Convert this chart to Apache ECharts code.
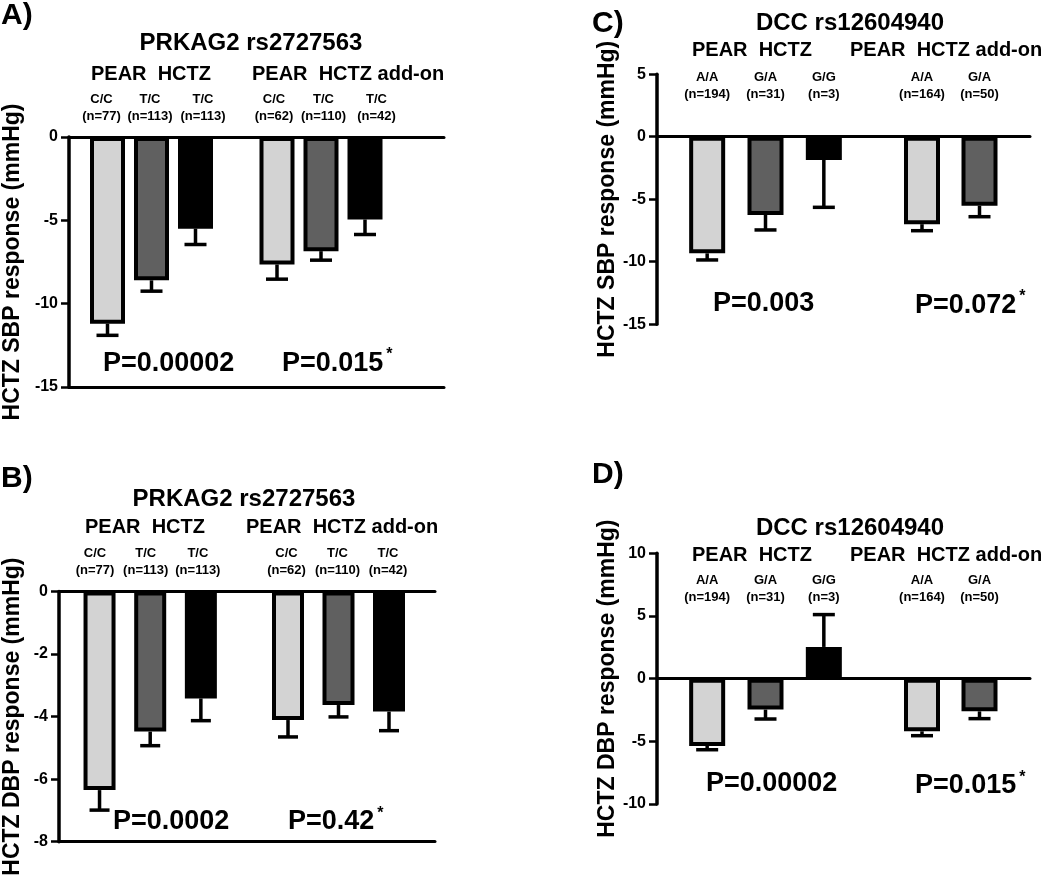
<!DOCTYPE html>
<html><head><meta charset="utf-8">
<script src="https://cdn.jsdelivr.net/npm/echarts@6/dist/echarts.min.js"></script>
<style>html,body{margin:0;padding:0;background:#fff}#c{width:1050px;height:882px}</style>
</head><body><div id="c"></div>
<script>
// ================= DATA =================
const groupNames = ['PEAR  HCTZ', 'PEAR  HCTZ add-on'];

// Panel A – PRKAG2 rs2727563, SBP
const A_letter = 'A)';
const A_title = 'PRKAG2 rs2727563';
const A_yName = 'HCTZ SBP response (mmHg)';
const A_yTicks = [0, -5, -10, -15];
const A_hctzCats = ['C/C\n(n=77)', 'T/C\n(n=113)', 'T/C\n(n=113)'];
const A_hctzMean = [-11.2, -8.6, -5.5];
const A_hctzSem = [0.7, 0.65, 0.95];
const A_addonCats = ['C/C\n(n=62)', 'T/C\n(n=110)', 'T/C\n(n=42)'];
const A_addonMean = [-7.65, -6.85, -4.95];
const A_addonSem = [0.88, 0.54, 0.9];
const A_pValues = ['P=0.00002', 'P=0.015'];

// Panel B – PRKAG2 rs2727563, DBP
const B_letter = 'B)';
const B_title = 'PRKAG2 rs2727563';
const B_yName = 'HCTZ DBP response (mmHg)';
const B_yTicks = [0, -2, -4, -6, -8];
const B_hctzCats = ['C/C\n(n=77)', 'T/C\n(n=113)', 'T/C\n(n=113)'];
const B_hctzMean = [-6.35, -4.48, -3.42];
const B_hctzSem = [0.64, 0.45, 0.71];
const B_addonCats = ['C/C\n(n=62)', 'T/C\n(n=110)', 'T/C\n(n=42)'];
const B_addonMean = [-4.11, -3.63, -3.84];
const B_addonSem = [0.54, 0.38, 0.61];
const B_pValues = ['P=0.0002', 'P=0.42'];

// Panel C – DCC rs12604940, SBP
const C_letter = 'C)';
const C_title = 'DCC rs12604940';
const C_yName = 'HCTZ SBP response (mmHg)';
const C_yTicks = [5, 0, -5, -10, -15];
const C_hctzCats = ['A/A\n(n=194)', 'G/A\n(n=31)', 'G/G\n(n=3)'];
const C_hctzMean = [-9.33, -6.26, -1.86];
const C_hctzSem = [0.53, 1.2, 3.79];
const C_addonCats = ['A/A\n(n=164)', 'G/A\n(n=50)'];
const C_addonMean = [-7.0, -5.52];
const C_addonSem = [0.52, 0.88];
const C_pValues = ['P=0.003', 'P=0.072'];

// Panel D – DCC rs12604940, DBP
const D_letter = 'D)';
const D_title = 'DCC rs12604940';
const D_yName = 'HCTZ DBP response (mmHg)';
const D_yTicks = [10, 5, 0, -5, -10];
const D_hctzCats = ['A/A\n(n=194)', 'G/A\n(n=31)', 'G/G\n(n=3)'];
const D_hctzMean = [-5.37, -2.47, 2.53];
const D_hctzSem = [0.3, 0.75, 2.58];
const D_addonCats = ['A/A\n(n=164)', 'G/A\n(n=50)'];
const D_addonMean = [-4.2, -2.61];
const D_addonSem = [0.35, 0.58];
const D_pValues = ['P=0.00002', 'P=0.015'];

const pStar = [false, true];

// ================= STYLE / LAYOUT =================
const FONT = '"Liberation Sans", Arial, Helvetica, sans-serif';
const fills = ['#d3d3d3', '#606060', '#000000'];

const panels = [
  {letter: A_letter, title: A_title, yName: A_yName, ticks: A_yTicks, pv: A_pValues,
   groups: [{cats: A_hctzCats, mean: A_hctzMean, sem: A_hctzSem}, {cats: A_addonCats, mean: A_addonMean, sem: A_addonSem}],
   L: {axisX: 67, top: 137, bottom: 387, right: 444, gl: [[85.5, 132], [255, 132]], barW: 35, cap: 11,
       lblMargin: 12.5, lblShift: [[-6, -1.5, 7.5], [-3, 2.5, 11.5]], nameGap: 45, frameBottom: true,
       letterXY: [1, 16], titleXY: [251, 43], headXY: [[91, 74], [252, 74]],
       pXY: [[103, 363.5], [282, 363.5]], starY: 355}},
  {letter: B_letter, title: B_title, yName: B_yName, ticks: B_yTicks, pv: B_pValues,
   groups: [{cats: B_hctzCats, mean: B_hctzMean, sem: B_hctzSem}, {cats: B_addonCats, mean: B_addonMean, sem: B_addonSem}],
   L: {axisX: 57, top: 591.5, bottom: 841.7, right: 435, gl: [[74.2, 152], [262.75, 151.5]], barW: 32, cap: 10,
       lblMargin: 13, lblShift: [[-4.5, -4.5, -3], [-1.5, -1, -1]], nameGap: 35, frameBottom: true,
       letterXY: [1, 479], titleXY: [244, 499], headXY: [[85, 527.5], [246, 527.5]],
       pXY: [[113, 822], [288, 822]], starY: 813.5}},
  {letter: C_letter, title: C_title, yName: C_yName, ticks: C_yTicks, pv: C_pValues,
   groups: [{cats: C_hctzCats, mean: C_hctzMean, sem: C_hctzSem}, {cats: C_addonCats, mean: C_addonMean, sem: C_addonSem}],
   L: {axisX: 657, top: 74.2, bottom: 324.2, right: 1030, gl: [[678, 175], [893.25, 115]], barW: 36, cap: 11,
       lblMargin: -28.3, lblShift: [[0, 0, 0], [0, 0]], nameGap: 37, frameBottom: false,
       letterXY: [592, 24], titleXY: [850, 23.5], headXY: [[692, 50], [850, 50]],
       pXY: [[713, 304], [915, 306]], starY: 297}},
  {letter: D_letter, title: D_title, yName: D_yName, ticks: D_yTicks, pv: D_pValues,
   groups: [{cats: D_hctzCats, mean: D_hctzMean, sem: D_hctzSem}, {cats: D_addonCats, mean: D_addonMean, sem: D_addonSem}],
   L: {axisX: 657, top: 553.3, bottom: 804, right: 1030, gl: [[678, 175], [893.25, 115]], barW: 36, cap: 11,
       lblMargin: -53, lblShift: [[0, 0, 0], [0, 0]], nameGap: 37, frameBottom: false,
       letterXY: [592, 475], titleXY: [850, 528], headXY: [[692, 555.5], [850, 555.5]],
       pXY: [[706, 784], [915, 786]], starY: 777.5}}
];

const measureCtx = document.createElement('canvas').getContext('2d');
function textWidth(text, size) {
  measureCtx.font = 'bold ' + size + 'px ' + FONT;
  return measureCtx.measureText(text).width;
}

function txt(x, y, text, size, weight, align) {
  const a = align || 'left';
  return {type: 'text', x: x, y: y, silent: true, z: 10,
    style: {text: text, fill: '#000', fontSize: size, fontWeight: weight || 'bold', fontFamily: FONT,
            align: a, verticalAlign: 'middle', textAlign: a, textVerticalAlign: 'middle'}};
}

function makeErr(capHalf) {
  return function (params, api) {
    const x = api.value(0), m = api.value(1), e = api.value(2);
    const p0 = api.coord([x, m]);
    const p1 = api.coord([x, e]);
    const st = {stroke: '#000', lineWidth: 3.5};
    return {type: 'group', children: [
      {type: 'line', shape: {x1: p0[0], y1: p0[1], x2: p1[0], y2: p1[1]}, style: st},
      {type: 'line', shape: {x1: p1[0] - capHalf, y1: p1[1], x2: p1[0] + capHalf, y2: p1[1]}, style: st}
    ]};
  };
}

const option = {animation: false, backgroundColor: '#fff', textStyle: {fontFamily: FONT},
  grid: [], xAxis: [], yAxis: [], series: [], graphic: []};

panels.forEach(function (p) {
  const L = p.L;
  const ymin = Math.min.apply(null, p.ticks), ymax = Math.max.apply(null, p.ticks);
  const step = Math.abs(p.ticks[1] - p.ticks[0]);
  const h = L.bottom - L.top;

  // frame grid (visible y axis + horizontal lines)
  const fi = option.grid.length;
  option.grid.push({left: L.axisX, top: L.top, width: L.right - L.axisX, height: h});
  option.yAxis.push({gridIndex: fi, type: 'value', min: ymin, max: ymax, interval: step,
    name: p.yName, nameLocation: 'middle', nameGap: L.nameGap,
    nameTextStyle: {fontSize: 23, fontWeight: 'bold', color: '#000', fontFamily: FONT},
    axisLine: {show: true, lineStyle: {color: '#000', width: 3.5}},
    axisTick: {show: true, length: 8, lineStyle: {color: '#000', width: 2.5}},
    axisLabel: {color: '#000', fontSize: 16, fontWeight: 'bold', margin: 11, fontFamily: FONT},
    splitLine: {show: false}, z: 5});
  const lineAxis = function (pos, onZero) {
    return {gridIndex: fi, type: 'value', min: 0, max: 1, position: pos, z: 5,
      axisLine: {show: true, onZero: onZero, lineStyle: {color: '#000', width: 3}},
      axisTick: {show: false}, axisLabel: {show: false}, splitLine: {show: false}};
  };
  if (L.frameBottom) {
    option.xAxis.push(lineAxis('bottom', false));
    option.xAxis.push(lineAxis('top', false));
  } else {
    option.xAxis.push(lineAxis('bottom', true));
  }

  // bar groups
  p.groups.forEach(function (g, gi) {
    const gIdx = option.grid.length;
    option.grid.push({left: L.gl[gi][0], top: L.top, width: L.gl[gi][1], height: h});
    const xi = option.xAxis.length, yi = option.yAxis.length;
    const catItems = g.cats.map(function (c, i) {
      const d = L.lblShift[gi][i] || 0;
      return {value: c, textStyle: {padding: d >= 0 ? [0, 0, 0, 2 * d] : [0, -2 * d, 0, 0]}};
    });
    option.xAxis.push({gridIndex: gIdx, type: 'category', data: catItems, position: 'top',
      axisLine: {show: false}, axisTick: {show: false}, splitLine: {show: false},
      axisLabel: {interval: 0, margin: L.lblMargin, fontSize: 13, fontWeight: 'bold', lineHeight: 17,
                  color: '#000', fontFamily: FONT}});
    option.yAxis.push({gridIndex: gIdx, type: 'value', min: ymin, max: ymax, show: false});
    option.series.push({type: 'bar', xAxisIndex: xi, yAxisIndex: yi, barWidth: L.barW, data: g.mean, z: 2,
      itemStyle: {color: function (q) { return fills[q.dataIndex]; }, borderColor: '#000', borderWidth: 4}});
    option.series.push({type: 'custom', xAxisIndex: xi, yAxisIndex: yi, z: 3, clip: false,
      data: g.mean.map(function (m, i) { return [i, m, m + Math.sign(m) * g.sem[i]]; }),
      renderItem: makeErr(L.cap)});
    // group header
    option.graphic.push(txt(L.headXY[gi][0], L.headXY[gi][1], groupNames[gi], 20));
    // p value
    option.graphic.push(txt(L.pXY[gi][0], L.pXY[gi][1], p.pv[gi], 27));
    if (pStar[gi]) {
      const sx = L.pXY[gi][0] + textWidth(p.pv[gi], 27) + 3;
      option.graphic.push(txt(sx, L.starY, '*', 16));
    }
  });

  option.graphic.push(txt(L.letterXY[0], L.letterXY[1], p.letter, 30));
  option.graphic.push(txt(L.titleXY[0], L.titleXY[1], p.title, 24, 'bold', 'center'));
});

const chart = echarts.init(document.getElementById('c'), null, {renderer: 'canvas'});
chart.setOption(option);
</script></body></html>
